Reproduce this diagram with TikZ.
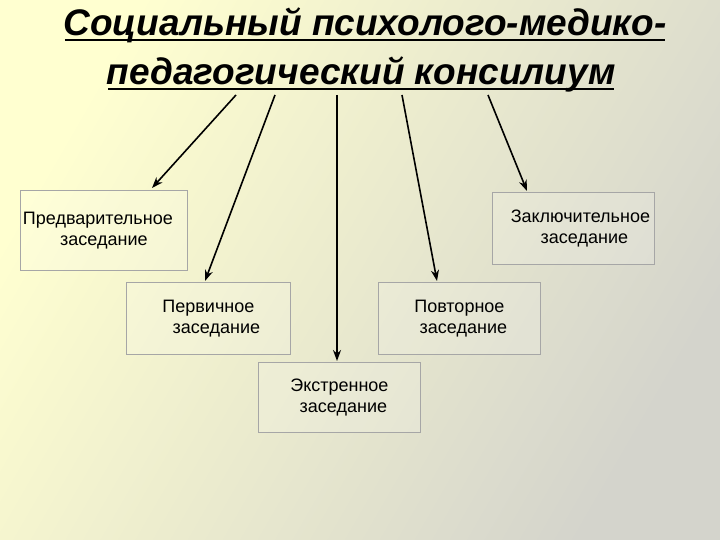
\documentclass[tikz,border=0pt]{standalone}
\usepackage{fontspec}
\setmainfont{Liberation Sans}
\usetikzlibrary{arrows.meta}
\begin{document}
\begin{tikzpicture}[x=1pt,y=-1pt,
  box/.style={draw=gray!70,line width=0.8pt,fill=white,fill opacity=0.15,text opacity=1,font=\fontsize{18}{21}\selectfont,align=center,anchor=north west,inner sep=0pt},
  ttl/.style={font=\fontsize{37}{40}\bfseries\itshape\selectfont},
  arr/.style={line width=1.6pt,-{Stealth[length=11pt,width=8pt]}}]
\shade[left color={rgb,255:red,255;green,255;blue,208},right color={rgb,255:red,212;green,212;blue,204},shading angle=60] (0,0) rectangle (720,540);
\useasboundingbox (0,0) rectangle (720,540);
\node[ttl] (t1) at (365,25) {Социальный психолого-медико-};
\node[ttl] (t2) at (361,74) {педагогический консилиум};
\draw[line width=1.5pt] (t1.south west)++(5,-6) coordinate (u1) -- ([xshift=-5pt]u1 -| t1.south east);
\draw[line width=1.5pt] (t2.south west)++(5,-6) coordinate (u2) -- ([xshift=-5pt]u2 -| t2.south east);
\node[box,minimum width=167pt,minimum height=80pt,text width=167pt] (pred) at (20,190) {\hspace*{-12pt}Предварительное\\ заседание};
\node[box,minimum width=162pt,minimum height=72pt,text width=162pt] (zakl) at (492,192) {\hspace*{14pt}Заключительное\\ \hspace*{22pt}заседание};
\node[box,minimum width=164pt,minimum height=72pt,text width=164pt] (perv) at (126,282) {Первичное\\ \hspace*{16pt}заседание};
\node[box,minimum width=162pt,minimum height=72pt,text width=162pt] (povt) at (378,282) {Повторное\\ \hspace*{8pt}заседание};
\node[box,minimum width=162pt,minimum height=70pt,text width=162pt] (ekst) at (258,362) {Экстренное\\ \hspace*{8pt}заседание};
\coordinate (s1) at (236,95); \coordinate (e1) at (152,188);
\coordinate (s2) at (275,95); \coordinate (e2) at (205,281);
\coordinate (s3) at (337,95); \coordinate (e3) at (337,361);
\coordinate (s4) at (402,95); \coordinate (e4) at (437,281);
\coordinate (s5) at (488,95); \coordinate (e5) at (527,191);
\foreach \i in {1,...,5} \draw[arr] (s\i) -- (e\i);
\end{tikzpicture}
\end{document}
